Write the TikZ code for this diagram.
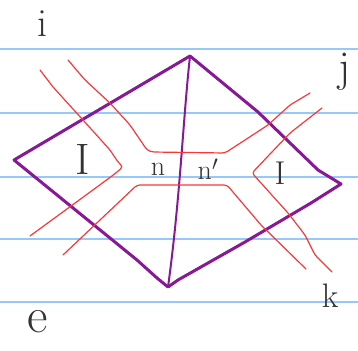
\documentclass[tikz,border=0pt]{standalone}
\definecolor{ruleblue}{RGB}{150,200,250}
\definecolor{diagpurple}{RGB}{135,25,150}
\definecolor{flowred}{RGB}{250,55,55}
\begin{document}
\begin{tikzpicture}[x=1pt,y=-1pt,
    ruled/.style={draw=ruleblue, line width=1.6pt},
    edge/.style={draw=diagpurple, line width=3pt, line join=round, line cap=round},
    flow/.style={draw=flowred, line width=1.2pt, line join=round, line cap=round, rounded corners=3pt},
    lbl/.style={text=black!80, inner sep=0pt}]
    \useasboundingbox (0,0) rectangle (358,350);

    % Ruled paper
    \foreach \y in {49,113,177,239,302}
        \draw[ruled] (0,\y) -- (358,\y);

    % Corners of the diagram
    \coordinate (top) at (190,56);
    \coordinate (left) at (14,160);
    \coordinate (bottom) at (168,287);
    \coordinate (right) at (341,184);

    % Purple outline
    \draw[edge] (left) -- (top) -- (258,112) -- (318,170) -- (right)
        -- (311,203) -- (245,242) -- (178,280) -- (bottom)
        -- (157,278) -- (137,260) -- cycle;
    \draw[edge, line width=2pt] (top) .. controls (183,120) and (180,200) .. (bottom);

    % Red lines
    \draw[flow] (40,70) -- (53,87) -- (83,120) -- (110,150) -- (118,162) -- (123,167)
        -- (112,176) -- (30,236);
    \draw[flow] (68,60) -- (85,80) -- (110,103) -- (130,125) -- (147,150) -- (152,152)
        -- (225,153) -- (245,140) -- (268,125) -- (290,105) -- (310,93);
    \draw[flow] (322,108) -- (290,133) -- (252,173) -- (288,213) -- (305,235)
        -- (315,255) -- (332,272);
    \draw[flow] (63,255) -- (137,185) -- (227,185) -- (261,225) -- (306,269);

    % Labels
    \node[lbl, font=\fontsize{40}{42}\selectfont] (i) at (42,24) {i};
    \node[lbl, font=\fontsize{44}{46}\selectfont] (j) at (345,72) {j};
    \node[lbl, font=\fontsize{50}{52}\selectfont] (e) at (38,322) {e};
    \node[lbl, font=\fontsize{34}{36}\selectfont] (k) at (330,296) {k};
    \node[lbl, font=\fontsize{44}{46}\selectfont] (Ileft) at (83,159) {I};
    \node[lbl, font=\fontsize{33}{35}\selectfont] (Iright) at (280,173) {I};
    \node[lbl, font=\fontsize{28}{30}\selectfont] (n) at (158,169) {n};
    \node[lbl, font=\fontsize{28}{30}\selectfont] (nprime) at (208,169) {n$'$};
\end{tikzpicture}
\end{document}
